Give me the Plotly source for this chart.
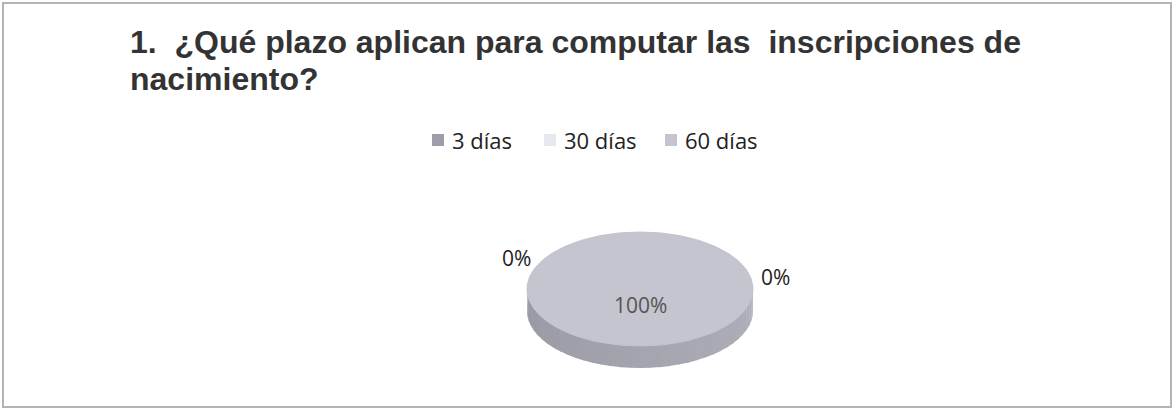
import numpy as np
import plotly.graph_objects as go

# ---- data ----
categories = ["3 días", "30 días", "60 días"]
values = [0, 0, 100]
colors_top = ["#9d9dab", "#e6e8f0", "#c4c5ce"]
colors_side = ["#7f7f8c", "#c8cad2", "#a9aab4"]
title_lines = ["1.  ¿Qué plazo aplican para computar las  inscripciones de",
               "nacimiento?"]

W, H = 1175, 411
# pie geometry (pixel space)
cx, cy, rx, ry, depth = 640, 289, 113, 57, 22

fig = go.Figure()

total = float(sum(values))
start = 90.0
slices = []
for cat, v, ct, cs in zip(categories, values, colors_top, colors_side):
    sweep = 360.0 * v / total
    a0, a1 = start, start - sweep  # clockwise
    slices.append((cat, v, a0, a1, ct, cs))
    start = a1

def pt(theta_deg, dy=0.0):
    t = np.radians(theta_deg)
    return cx + rx * np.cos(t), cy - ry * np.sin(t) + dy

# side bands (lower half only), drawn first
for cat, v, a0, a1, ct, cs in slices:
    if v <= 0:
        continue
    lo, hi = min(a0, a1), max(a0, a1)
    nseg = 36
    base = np.array([int(cs[i:i + 2], 16) for i in (1, 3, 5)], dtype=float)
    for k in range(nseg):
        s0 = 180 + 180.0 * k / nseg
        s1 = 180 + 180.0 * (k + 1) / nseg + 0.6
        for off in (-720, -360, 0, 360):
            b0, b1 = max(lo, s0 + off), min(hi, s1 + off)
            if b1 > b0:
                th = np.linspace(b0, b1, 6)
                xs_t, ys_t = pt(th)
                xs_b, ys_b = pt(th[::-1], depth)
                frac = (k + 0.5) / nseg
                shade = 0.9 + 0.14 * frac
                c = np.clip(base * shade, 0, 255).astype(int)
                col = "rgb(%d,%d,%d)" % tuple(c)
                fig.add_trace(go.Scatter(
                    x=np.concatenate([xs_t, xs_b, xs_t[:1]]),
                    y=np.concatenate([ys_t, ys_b, ys_t[:1]]),
                    mode="lines", fill="toself", fillcolor=col,
                    line=dict(width=0), hoverinfo="skip",
                    showlegend=False))

# top faces
for cat, v, a0, a1, ct, cs in slices:
    if v <= 0:
        continue
    th = np.linspace(a0, a1, 240)
    xs, ys = pt(th)
    if abs(a0 - a1) < 359.9:
        xs = np.concatenate([[cx], xs, [cx]])
        ys = np.concatenate([[cy], ys, [cy]])
    fig.add_trace(go.Scatter(x=xs, y=ys, mode="lines", fill="toself",
                             fillcolor=ct, line=dict(width=0.8, color="#bcbdc6"),
                             hoverinfo="skip", showlegend=False))

# custom legend (square markers + text)
leg_x = [438, 550, 671]
leg_y = 140
fig.add_trace(go.Scatter(x=leg_x, y=[leg_y] * 3, mode="markers",
                         marker=dict(symbol="square", size=12, color=colors_top,
                                     line=dict(width=0)),
                         hoverinfo="skip", showlegend=False))
for lx, cat in zip(leg_x, categories):
    fig.add_annotation(x=lx + 12, y=leg_y, text=cat, showarrow=False,
                       xanchor="left", yanchor="middle",
                       font=dict(family="Open Sans", size=22, color="#222"))

# data labels
pct = [round(100 * v / total) for v in values]
label_pos = [(516, 258), (775, 277), (640, 305)]
for (lx, ly), p, v in zip(label_pos, pct, values):
    fig.add_annotation(x=lx, y=ly, text="%d%%" % p, showarrow=False,
                       font=dict(family="Open Sans", size=21,
                                 color="#555555" if v else "#222222"),
                       xanchor="center", yanchor="middle")

for i, line in enumerate(title_lines):
    fig.add_annotation(x=128, y=42 + 37 * i, xref="x", yref="y", text=line,
                       showarrow=False, xanchor="left", yanchor="middle",
                       font=dict(family="Liberation Sans", size=32,
                                 color="#333333", weight="bold"))

fig.add_shape(type="rect", x0=3, y0=3, x1=1171, y1=407, xref="x", yref="y",
              line=dict(color="#b4b4b4", width=2), layer="below")

fig.update_layout(
    width=W, height=H, margin=dict(l=0, r=0, t=0, b=0),
    paper_bgcolor="white", plot_bgcolor="white",
    xaxis=dict(range=[0, W], visible=False, fixedrange=True),
    yaxis=dict(range=[H, 0], visible=False, fixedrange=True),
    showlegend=False,
)

fig.write_html("out.html", config={"displayModeBar": False},
               post_script="document.body.style.margin='0';document.body.style.padding='0';")
